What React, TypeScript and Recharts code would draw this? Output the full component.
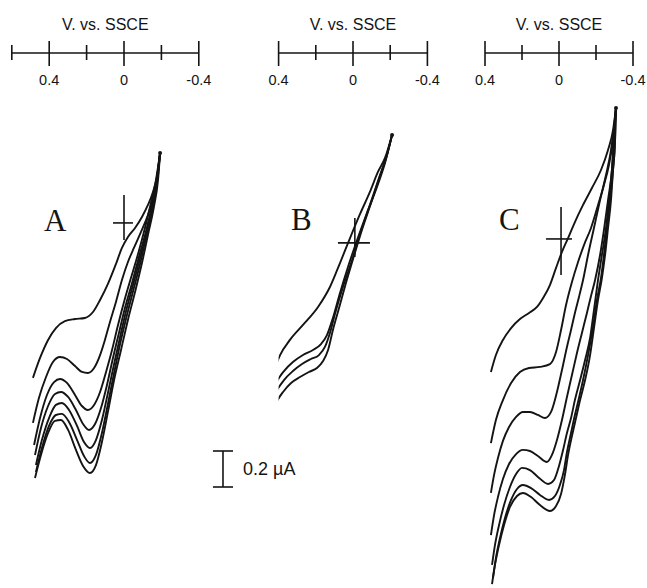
import React from 'react';
import { LineChart, Line, XAxis, YAxis, ReferenceLine, ReferenceDot } from 'recharts';

type P = [number, number]; // [potential (V vs SSCE), current (µA, arbitrary baseline)]

// ---------- Panel A ----------
const curveA1: P[] = [[0.487,1.156],[0.449,1.267],[0.406,1.367],[0.364,1.433],[0.316,1.472],[0.262,1.483],[0.209,1.489],[0.166,1.522],[0.128,1.589],[0.086,1.678],[0.043,1.789],[0.011,1.878],[-0.021,1.939],[-0.059,1.989],[-0.096,2.05],[-0.128,2.117],[-0.155,2.189],[-0.176,2.272],[-0.193,2.406]];
const curveA2: P[] = [[0.487,0.906],[0.455,1.044],[0.417,1.161],[0.38,1.244],[0.342,1.272],[0.305,1.261],[0.262,1.222],[0.225,1.189],[0.193,1.183],[0.16,1.211],[0.128,1.283],[0.102,1.367],[0.075,1.467],[0.043,1.578],[0.011,1.7],[-0.021,1.8],[-0.053,1.878],[-0.091,1.967],[-0.128,2.061],[-0.16,2.172],[-0.182,2.283],[-0.193,2.406]];
const curveA3: P[] = [[0.481,0.783],[0.449,0.933],[0.412,1.061],[0.374,1.133],[0.342,1.15],[0.305,1.128],[0.262,1.061],[0.225,1.0],[0.193,0.978],[0.16,1.006],[0.128,1.078],[0.096,1.189],[0.064,1.311],[0.032,1.45],[0.0,1.578],[-0.037,1.711],[-0.075,1.844],[-0.112,1.989],[-0.144,2.128],[-0.171,2.256],[-0.193,2.406]];
const curveA4: P[] = [[0.476,0.728],[0.444,0.878],[0.406,1.0],[0.369,1.067],[0.337,1.078],[0.299,1.05],[0.257,0.978],[0.219,0.9],[0.187,0.867],[0.155,0.9],[0.123,0.989],[0.091,1.117],[0.059,1.267],[0.027,1.406],[-0.005,1.544],[-0.043,1.683],[-0.08,1.828],[-0.118,1.972],[-0.15,2.117],[-0.176,2.256],[-0.193,2.406]];
const curveA5: P[] = [[0.471,0.672],[0.439,0.811],[0.401,0.933],[0.364,1.006],[0.332,1.017],[0.294,0.978],[0.251,0.889],[0.214,0.8],[0.182,0.767],[0.15,0.811],[0.118,0.922],[0.086,1.072],[0.053,1.233],[0.021,1.383],[-0.011,1.528],[-0.048,1.672],[-0.086,1.822],[-0.123,1.967],[-0.155,2.117],[-0.176,2.256],[-0.193,2.406]];
const curveA6: P[] = [[0.471,0.633],[0.439,0.767],[0.401,0.889],[0.364,0.95],[0.332,0.956],[0.294,0.911],[0.251,0.811],[0.214,0.722],[0.182,0.683],[0.15,0.728],[0.118,0.85],[0.086,1.011],[0.053,1.183],[0.021,1.344],[-0.016,1.506],[-0.053,1.656],[-0.091,1.811],[-0.123,1.961],[-0.155,2.111],[-0.176,2.256],[-0.193,2.406]];
const curveA7: P[] = [[0.476,0.6],[0.444,0.728],[0.406,0.85],[0.369,0.917],[0.337,0.922],[0.299,0.867],[0.257,0.756],[0.219,0.667],[0.182,0.628],[0.15,0.672],[0.118,0.8],[0.086,0.967],[0.053,1.144],[0.016,1.311],[-0.021,1.478],[-0.059,1.633],[-0.096,1.794],[-0.128,1.95],[-0.16,2.106],[-0.182,2.256],[-0.193,2.406]];

// ---------- Panel B ----------
const curveB1: P[] = [[0.43,1.183],[0.392,1.283],[0.339,1.367],[0.269,1.45],[0.188,1.55],[0.124,1.661],[0.07,1.794],[0.016,1.933],[-0.038,2.067],[-0.091,2.189],[-0.134,2.3],[-0.172,2.378],[-0.21,2.506]];
const curveB2: P[] = [[0.446,1.05],[0.414,1.128],[0.371,1.194],[0.323,1.244],[0.269,1.283],[0.215,1.311],[0.172,1.344],[0.14,1.394],[0.108,1.489],[0.07,1.628],[0.027,1.772],[-0.022,1.922],[-0.075,2.072],[-0.129,2.217],[-0.172,2.35],[-0.21,2.506]];
const curveB3: P[] = [[0.446,1.006],[0.414,1.078],[0.371,1.144],[0.323,1.194],[0.274,1.233],[0.226,1.261],[0.183,1.283],[0.151,1.328],[0.124,1.406],[0.097,1.511],[0.054,1.661],[0.005,1.811],[-0.038,1.956],[-0.091,2.117],[-0.14,2.267],[-0.177,2.378],[-0.21,2.506]];
const curveB4: P[] = [[0.446,0.939],[0.414,1.017],[0.376,1.078],[0.333,1.128],[0.285,1.161],[0.237,1.189],[0.194,1.211],[0.161,1.25],[0.134,1.311],[0.108,1.422],[0.075,1.544],[0.038,1.683],[-0.005,1.833],[-0.048,1.978],[-0.097,2.128],[-0.145,2.278],[-0.183,2.394],[-0.21,2.506]];

// ---------- Panel C ----------
const curveC1: P[] = [[0.368,1.189],[0.341,1.283],[0.303,1.367],[0.259,1.433],[0.211,1.483],[0.162,1.517],[0.119,1.55],[0.086,1.6],[0.049,1.672],[0.016,1.767],[-0.016,1.856],[-0.049,1.933],[-0.086,2.022],[-0.13,2.117],[-0.178,2.211],[-0.227,2.311],[-0.265,2.422],[-0.292,2.533],[-0.308,2.656]];
const curveC2: P[] = [[0.368,0.794],[0.341,0.922],[0.303,1.033],[0.259,1.128],[0.211,1.189],[0.162,1.211],[0.103,1.217],[0.049,1.233],[0.016,1.3],[-0.011,1.422],[-0.038,1.561],[-0.07,1.689],[-0.103,1.8],[-0.135,1.894],[-0.173,1.989],[-0.211,2.117],[-0.243,2.228],[-0.27,2.339],[-0.292,2.478],[-0.308,2.656]];
const curveC3: P[] = [[0.368,0.517],[0.351,0.617],[0.33,0.711],[0.303,0.806],[0.27,0.883],[0.232,0.939],[0.195,0.967],[0.157,0.967],[0.114,0.95],[0.076,0.933],[0.043,0.967],[0.011,1.078],[-0.016,1.2],[-0.043,1.328],[-0.065,1.422],[-0.086,1.517],[-0.108,1.606],[-0.13,1.7],[-0.157,1.839],[-0.189,1.989],[-0.222,2.144],[-0.254,2.283],[-0.281,2.422],[-0.297,2.544],[-0.308,2.656]];
const curveC4: P[] = [[0.368,0.283],[0.351,0.394],[0.33,0.494],[0.303,0.594],[0.27,0.678],[0.232,0.733],[0.195,0.756],[0.157,0.75],[0.114,0.722],[0.065,0.689],[0.038,0.728],[0.011,0.811],[-0.016,0.922],[-0.043,1.05],[-0.07,1.172],[-0.097,1.294],[-0.124,1.406],[-0.151,1.517],[-0.173,1.611],[-0.195,1.7],[-0.222,1.839],[-0.243,1.978],[-0.265,2.144],[-0.286,2.311],[-0.297,2.478],[-0.308,2.656]];
const curveC5: P[] = [[0.362,0.117],[0.346,0.228],[0.324,0.339],[0.297,0.45],[0.265,0.55],[0.232,0.622],[0.2,0.656],[0.157,0.644],[0.114,0.606],[0.059,0.567],[0.027,0.589],[0.0,0.667],[-0.022,0.756],[-0.043,0.85],[-0.065,0.933],[-0.086,1.033],[-0.114,1.144],[-0.141,1.256],[-0.168,1.378],[-0.189,1.533],[-0.211,1.7],[-0.232,1.839],[-0.254,1.989],[-0.27,2.144],[-0.286,2.311],[-0.297,2.478],[-0.308,2.656]];
const curveC6: P[] = [[0.357,0.044],[0.341,0.156],[0.319,0.267],[0.292,0.378],[0.259,0.478],[0.227,0.539],[0.195,0.561],[0.151,0.544],[0.103,0.506],[0.054,0.478],[0.022,0.5],[-0.005,0.561],[-0.027,0.644],[-0.043,0.744],[-0.065,0.85],[-0.086,0.95],[-0.108,1.044],[-0.13,1.144],[-0.157,1.283],[-0.184,1.439],[-0.205,1.589],[-0.227,1.711],[-0.243,1.839],[-0.259,1.989],[-0.276,2.144],[-0.292,2.311],[-0.303,2.478],[-0.308,2.656]];
const curveC7: P[] = [[0.362,0.011],[0.346,0.117],[0.324,0.228],[0.297,0.339],[0.265,0.439],[0.227,0.5],[0.195,0.517],[0.151,0.494],[0.103,0.45],[0.049,0.417],[0.016,0.444],[-0.011,0.511],[-0.032,0.617],[-0.049,0.728],[-0.07,0.833],[-0.092,0.933],[-0.114,1.033],[-0.141,1.144],[-0.168,1.283],[-0.189,1.433],[-0.211,1.589],[-0.232,1.711],[-0.249,1.839],[-0.265,1.989],[-0.281,2.144],[-0.292,2.311],[-0.303,2.478],[-0.308,2.656]];

// ---------- axes / annotations ----------
const axisTitle = 'V. vs. SSCE';
const ticksA = [0.6, 0.4, 0.2, 0, -0.2, -0.4];
const ticksBC = [0.4, 0.2, 0, -0.2, -0.4];
const labelledTicks = [0.4, 0, -0.4];
const domainA: [number, number] = [-0.4, 0.6];
const domainBC: [number, number] = [-0.4, 0.4];
const currentDomain: [number, number] = [0, 2.961];

const crossAV: P[] = [[0, 1.922], [0, 2.172]];
const crossAH: P[] = [[0.059, 2.017], [-0.048, 2.017]];
const crossBV: P[] = [[-0.01, 1.828], [-0.01, 2.044]];
const crossBH: P[] = [[0.081, 1.906], [-0.091, 1.906]];
const crossCV: P[] = [[-0.011, 1.728], [-0.011, 2.106]];
const crossCH: P[] = [[0.07, 1.928], [-0.07, 1.928]];

const scaleBarE = 0.699;
const scaleBarCap = [0.753, 0.645];
const scaleBarCurrent = [0.55, 0.75]; // 0.2 µA
const scaleBarLabel = '0.2 µA';

const panelLetters = ['A', 'B', 'C'];

const toPts = (arr: P[]) => arr.map(([E, i]) => ({ E, i }));
const seg = (arr: P[]) => arr.map(([x, y]) => ({ x, y }));

const SANS = "'Liberation Sans', Arial, Helvetica, sans-serif";
const SERIF = "'Liberation Serif', 'Times New Roman', serif";
const INK = '#141414';

const fmt = (v: number) => (Math.abs(v) < 1e-9 ? '0' : String(v));

const AxisTick = (props: any) => {
  const { x, y, payload } = props;
  const v = Number(payload?.value);
  const major = labelledTicks.some((m) => Math.abs(m - v) < 1e-6);
  const up = major ? 12 : 8;
  const down = major ? 13 : 7;
  return (
    <g>
      <line x1={x} x2={x} y1={y - up} y2={y + down} stroke={INK} strokeWidth={1.6} />
      {major && (
        <text x={x} y={y + 32} textAnchor="middle" fontSize={14.5} fontFamily={SANS} fill={INK}>
          {fmt(v)}
        </text>
      )}
    </g>
  );
};

type PanelProps = {
  curves: P[][];
  domain: [number, number];
  ticks: number[];
  left: number;
  right: number;
  crossV: P[];
  crossH: P[];
  withScaleBar?: boolean;
};

const W = 647;
const H = 588;
const AXIS_H = 30;
const AXIS_Y = 53;

const Panel = ({ curves, domain, ticks, left, right, crossV, crossH, withScaleBar }: PanelProps) => {
  const top = curves[0][curves[0].length - 1];
  return (
    <div style={{ position: 'absolute', left: 0, top: 0 }}>
      <LineChart width={W} height={H} margin={{ top: AXIS_Y - AXIS_H, right: W - right, bottom: 2, left }}>
        <XAxis
          xAxisId={0}
          type="number"
          dataKey="E"
          orientation="top"
          domain={domain}
          reversed
          allowDataOverflow
          ticks={ticks}
          interval={0}
          height={AXIS_H}
          tickSize={0}
          tickMargin={0}
          tickLine={false}
          axisLine={{ stroke: INK, strokeWidth: 1.6 }}
          tick={(p: any) => <AxisTick {...p} />}
          label={{ value: axisTitle, position: 'insideTop', offset: -4, fontSize: 16, fontFamily: SANS, fill: INK }}
        />
        <YAxis yAxisId={0} type="number" dataKey="i" domain={currentDomain} allowDataOverflow hide />
        {curves.map((c, k) => (
          <Line
            key={k}
            data={toPts(c)}
            dataKey="i"
            type="monotone"
            stroke={INK}
            strokeWidth={1.9}
            dot={false}
            activeDot={false}
            isAnimationActive={false}
          />
        ))}
        <ReferenceLine segment={seg(crossV)} stroke={INK} strokeWidth={1.6} />
        <ReferenceLine segment={seg(crossH)} stroke={INK} strokeWidth={1.6} />
        <ReferenceDot x={top[0]} y={top[1]} r={2} fill={INK} stroke="none" />
        {withScaleBar && (
          <ReferenceLine
            ifOverflow="visible"
            segment={[{ x: scaleBarE, y: scaleBarCurrent[0] }, { x: scaleBarE, y: scaleBarCurrent[1] }]}
            stroke={INK}
            strokeWidth={1.6}
            label={{ value: scaleBarLabel, position: 'right', offset: 20, fontSize: 18, fontFamily: SANS, fill: INK }}
          />
        )}
        {withScaleBar &&
          scaleBarCurrent.map((cur, k) => (
            <ReferenceLine
              key={'cap' + k}
              ifOverflow="visible"
              segment={[{ x: scaleBarCap[0], y: cur }, { x: scaleBarCap[1], y: cur }]}
              stroke={INK}
              strokeWidth={1.6}
            />
          ))}
      </LineChart>
    </div>
  );
};

export default function App() {
  return (
    <div style={{ position: 'absolute', left: 0, top: 0, width: W, height: H, background: '#fff', overflow: 'hidden' }}>
      <Panel
        curves={[curveA1, curveA2, curveA3, curveA4, curveA5, curveA6, curveA7]}
        domain={domainA}
        ticks={ticksA}
        left={11.8}
        right={198.8}
        crossV={crossAV}
        crossH={crossAH}
      />
      <Panel
        curves={[curveB1, curveB2, curveB3, curveB4]}
        domain={domainBC}
        ticks={ticksBC}
        left={278.6}
        right={427.4}
        crossV={crossBV}
        crossH={crossBH}
        withScaleBar
      />
      <Panel
        curves={[curveC1, curveC2, curveC3, curveC4, curveC5, curveC6, curveC7]}
        domain={domainBC}
        ticks={ticksBC}
        left={485}
        right={633}
        crossV={crossCV}
        crossH={crossCH}
      />
      <svg width={W} height={H} style={{ position: 'absolute', left: 0, top: 0, pointerEvents: 'none' }}>
        <text x={44} y={231} fontSize={31} fontFamily={SERIF} fill={INK}>{panelLetters[0]}</text>
        <text x={291} y={230} fontSize={31} fontFamily={SERIF} fill={INK}>{panelLetters[1]}</text>
        <text x={499} y={230} fontSize={31} fontFamily={SERIF} fill={INK}>{panelLetters[2]}</text>
      </svg>
    </div>
  );
}
